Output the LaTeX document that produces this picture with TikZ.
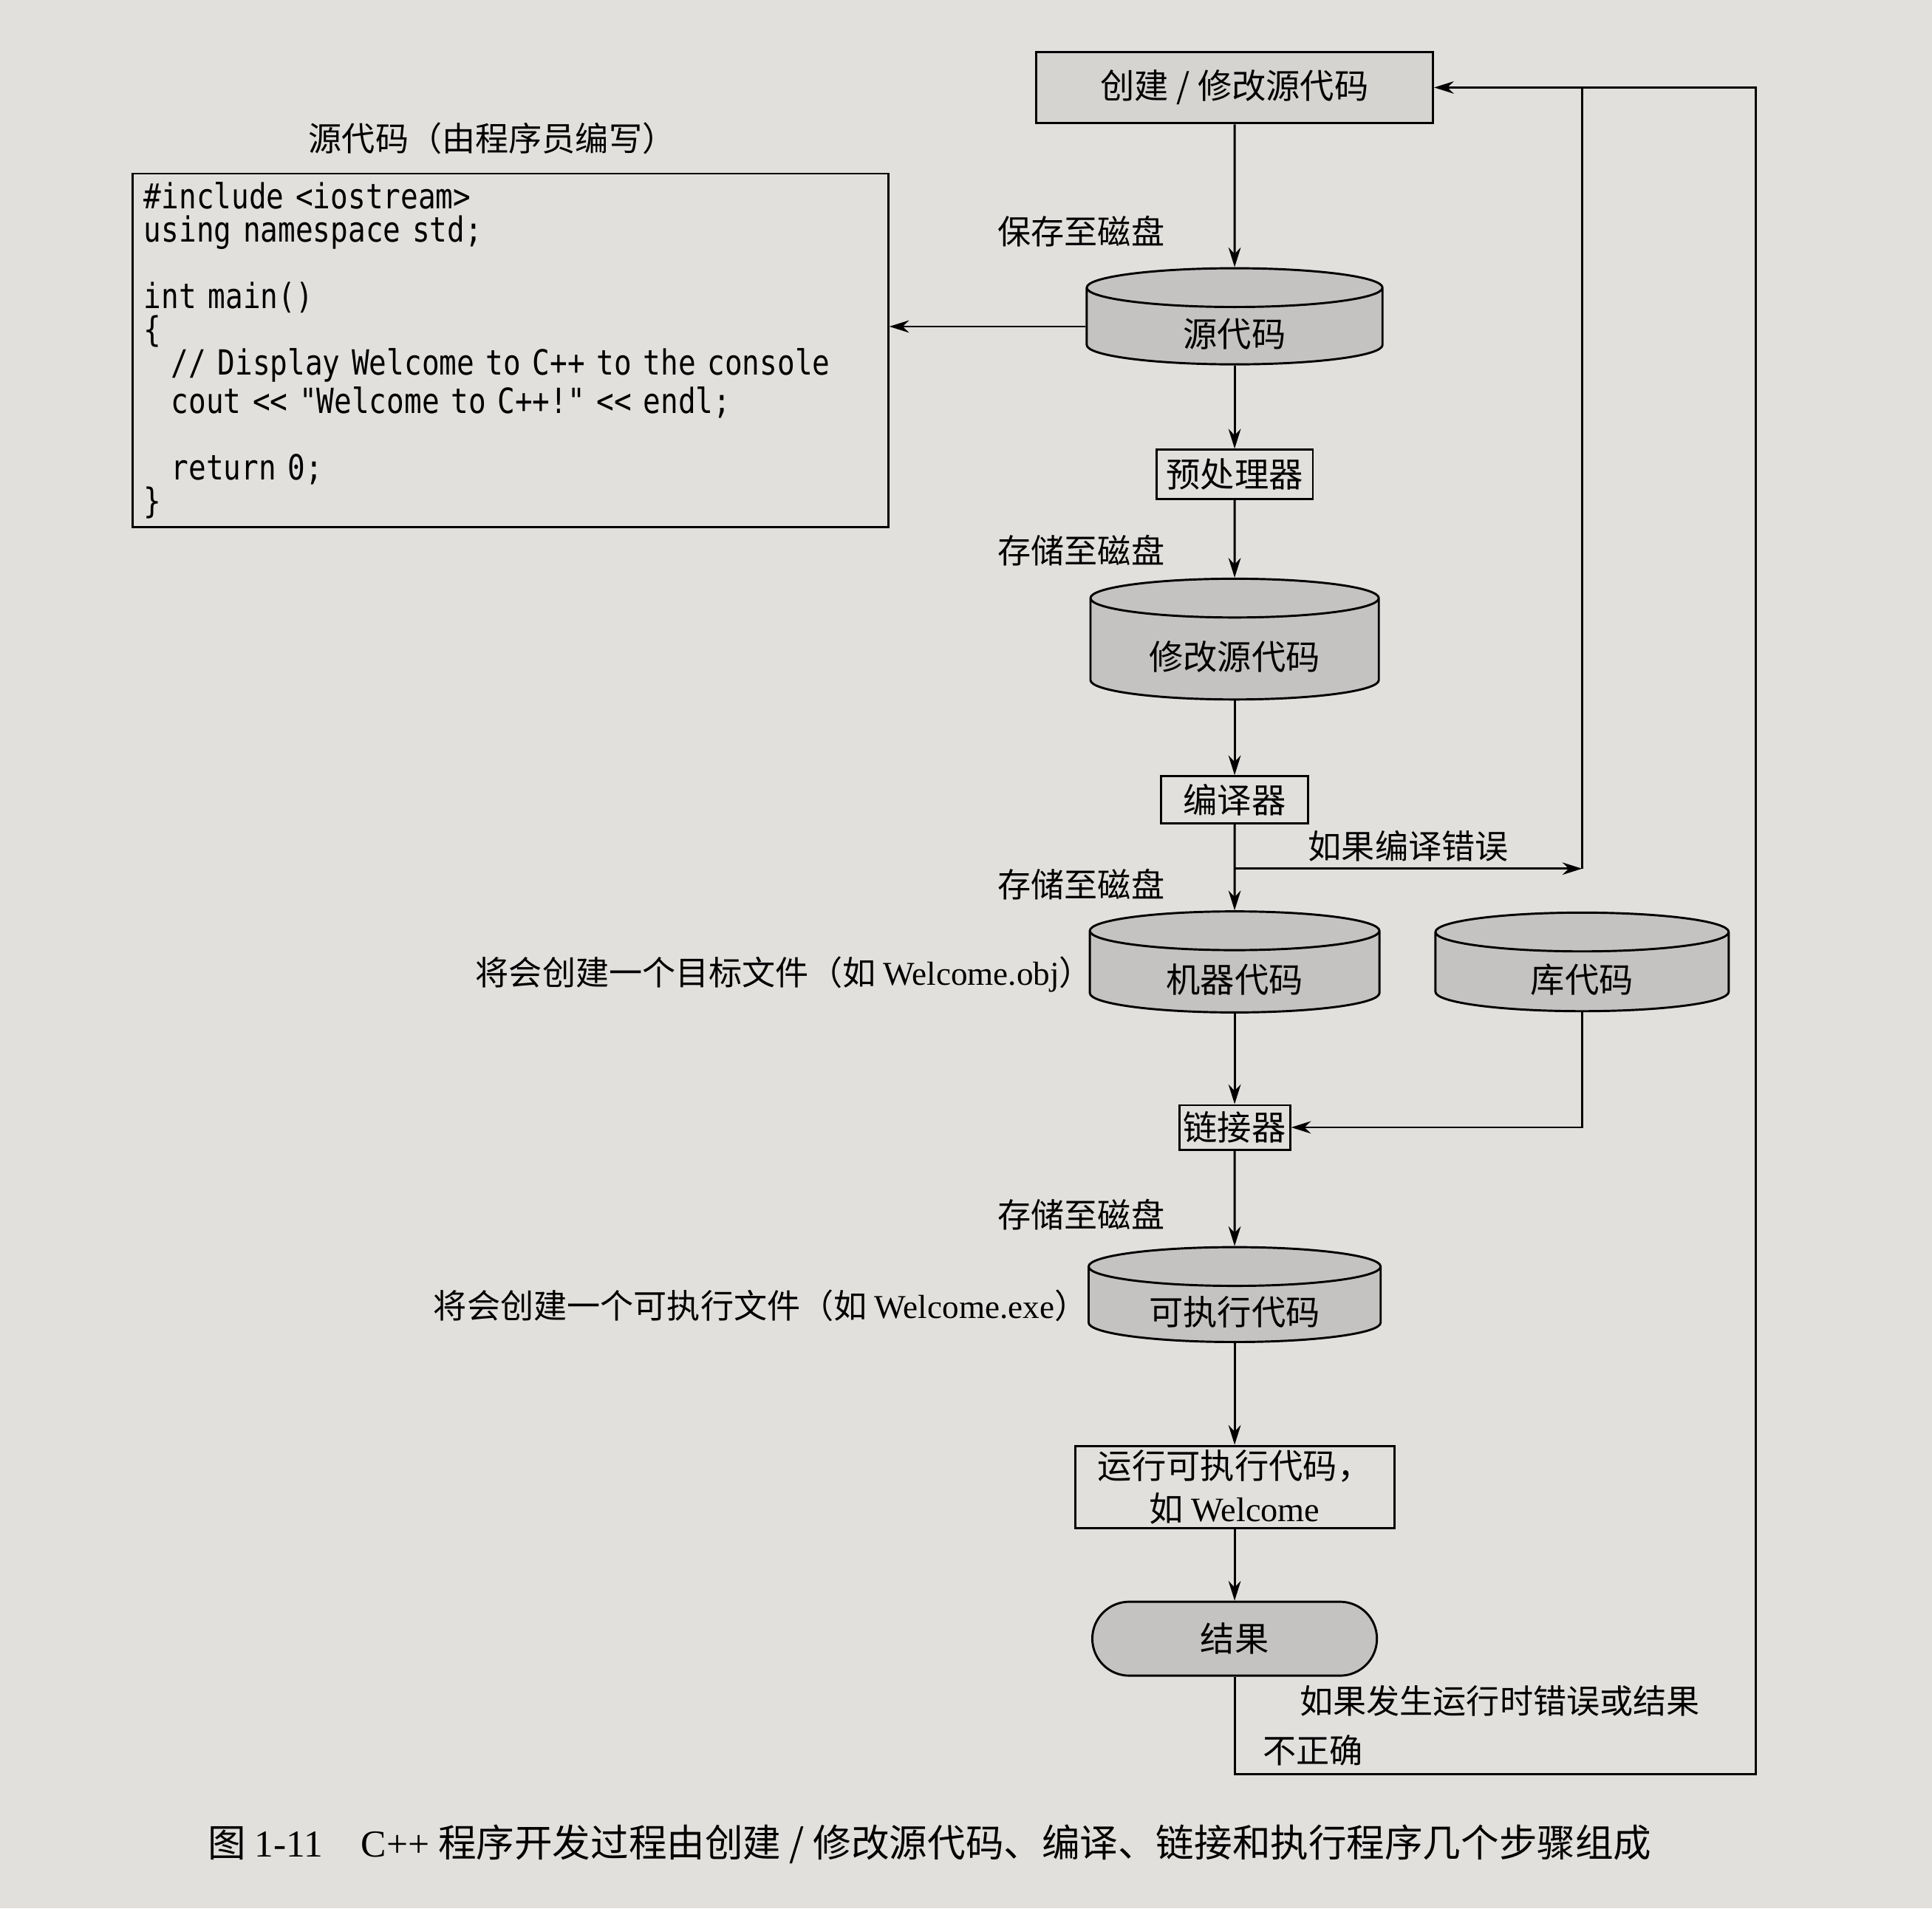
\documentclass[tikz,border=0pt]{standalone}
\usepackage{fontspec}
\setmainfont{Liberation Serif}
\newfontfamily\cjk{Noto Sans CJK SC}
\newfontfamily\codefont[FakeStretch=0.84]{DejaVu Sans Mono}
\usetikzlibrary{positioning, arrows.meta, shapes.geometric}
\definecolor{paper}{RGB}{226,224,221}
\definecolor{boxgray}{RGB}{214,212,209}
\definecolor{diskgray}{RGB}{196,195,193}
\newcommand{\codestyle}{\codefont\fontsize{8}{7.7}\selectfont}
\newcommand{\disktext}[1]{\raisebox{-0.06cm}[\height][\depth]{\makebox[0.85cm]{#1}}}

\tikzset{
  stepbox/.style={draw, fill=boxgray, inner sep=0pt, align=center,
    font=\cjk\fontsize{7.9}{10}\selectfont},
  disk/.style={cylinder, shape border rotate=90, aspect=0.37, draw, fill=diskgray,
    inner sep=0pt, font=\cjk\fontsize{7.9}{10}\selectfont},
  lbl/.style={inner sep=0pt, font=\cjk\fontsize{7.7}{11.4}\selectfont},
  codebox/.style={draw, fill=paper, inner sep=0pt, align=left, text width=5.95cm,
    minimum width=6.13cm, minimum height=2.87cm, font=\codestyle}
}

\begin{document}
\begin{tikzpicture}[node distance=1.3cm, on grid, ->, >={Stealth[length=1.6mm, width=1mm]}, line width=0.5pt]
  \fill[paper] (0,0) rectangle (15.68,-15.49);
  \useasboundingbox (0,0) rectangle (15.68,-15.49);

  % main column
  \node[stepbox, minimum width=3.22cm, minimum height=0.58cm] (create) at (10.02,-0.71) {创建 / 修改源代码};
  \node[disk, minimum width=2.40cm, minimum height=0.78cm, below=1.94cm of create] (src) {\disktext{源代码}};
  \node[stepbox, fill=paper, minimum width=1.27cm, minimum height=0.40cm, below=1.20cm of src] (pre) {预处理器};
  \node[disk, minimum width=2.34cm, minimum height=0.98cm, below=1.42cm of pre] (mod) {\disktext{修改源代码}};
  \node[stepbox, fill=paper, minimum width=1.19cm, minimum height=0.38cm, below=1.22cm of mod] (comp) {编译器};
  \coordinate[below=0.56cm of comp] (split);
  \node[disk, minimum width=2.35cm, minimum height=0.82cm, below=1.40cm of comp] (mach) {\disktext{机器代码}};
  \node[disk, minimum width=2.38cm, minimum height=0.80cm, right=2.82cm of mach] (lib) {\disktext{库代码}};
  \node[stepbox, fill=paper, minimum width=0.90cm, minimum height=0.36cm, below=1.26cm of mach] (link) {链接器};
  \node[disk, minimum width=2.37cm, minimum height=0.77cm, below=1.44cm of link] (exe) {\disktext{可执行代码}};
  \node[stepbox, fill=paper, minimum width=2.59cm, minimum height=0.67cm, below=1.48cm of exe] (run) {运行可执行代码，\\如 {\rmfamily Welcome}};
  \node[stepbox, fill=diskgray, rounded corners=0.3cm, minimum width=2.31cm, minimum height=0.60cm, below=1.23cm of run] (result) {结果};
  \coordinate[below=1.10cm of result] (runbend);
  \coordinate[right=4.23cm of create] (loopend);

  % source listing
  \node[codebox, anchor=north west] (code) at (1.07,-1.40) {%
    \#include <iostream>\\
    using namespace std;\\
    \mbox{}\\
    int main()\\
    \{\\
    \hspace*{0.22cm}// Display Welcome to C++ to the console\\
    \hspace*{0.22cm}cout << "Welcome to C++!" << endl;\\
    \mbox{}\\
    \hspace*{0.22cm}return 0;\\
    \}};
  \node[lbl, above=0.14cm of code.north, xshift=-0.15cm] (codetitle) {源代码（由程序员编写）};
  \node[lbl, anchor=east, yshift=-0.02cm] (objnote) at ([xshift=0.04cm]mach.west) {将会创建一个目标文件（如 {\rmfamily Welcome.obj}）};
  \node[lbl, anchor=east, yshift=-0.01cm] (exenote) at ([xshift=0.01cm]exe.west) {将会创建一个可执行文件（如 {\rmfamily Welcome.exe}）};
  \node[lbl, align=left, anchor=south west] (runnote) at ([xshift=0.22cm, yshift=0.06cm]runbend) {\hspace*{0.3cm}如果发生运行时错误或结果\\不正确};
  \node[lbl, anchor=west, font=\cjk\fontsize{8.8}{11}\selectfont] (caption) at (1.68,-14.97) {图 {\rmfamily 1-11}\quad {\rmfamily C++} 程序开发过程由创建 / 修改源代码、编译、链接和执行程序几个步骤组成};

  % flow
  \path (create) edge node[lbl, anchor=east, xshift=-0.56cm, pos=0.75] {保存至磁盘} (src);
  \path (src.west) edge (src.west -| code.east);
  \path (src) edge (pre);
  \path (pre) edge node[lbl, anchor=east, xshift=-0.56cm, pos=0.65] {存储至磁盘} (mod);
  \path (mod) edge (comp);
  \path (comp) edge node[lbl, anchor=east, xshift=-0.56cm, pos=0.70] {存储至磁盘} (mach);
  \path (split) edge node[lbl, above=0.05cm] {如果编译错误} (split -| lib);
  \draw[-] (split -| lib) -- (lib |- loopend);
  \draw (lib) |- (link);
  \path (mach) edge (link);
  \path (link) edge node[lbl, anchor=east, xshift=-0.56cm, pos=0.67] {存储至磁盘} (exe);
  \path (exe) edge (run);
  \path (run) edge (result);
  \draw (result) -- (runbend) -| (loopend) -- (create);
\end{tikzpicture}
\end{document}
